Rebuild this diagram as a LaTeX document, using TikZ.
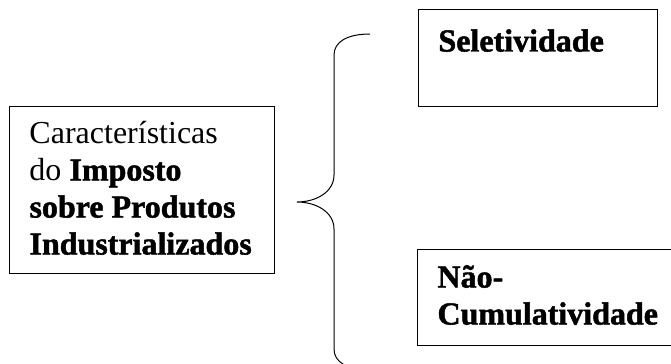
\documentclass[tikz,border=0pt]{standalone}
\usepackage{fontspec}
\setmainfont{Liberation Serif}[BoldFeatures={FakeBold=1.5}]
\usepackage{tikz}

\newcommand{\textocaixa}[4]{\parbox[c][#2][t]{#1}{\raggedright\rule{0pt}{#3}#4}}

\begin{document}
\begin{tikzpicture}[x=0.5pt, y=-0.5pt, semithick,
    caixa/.style={draw, rectangle, line width=0.5pt, anchor=north west, inner xsep=10pt, inner ysep=0pt,
                  font=\fontsize{16}{18.5}\selectfont},
    chave/.style={line width=0.5pt}]
    \clip (0,0) rectangle (671,364);

    \node[caixa]   (carac)   at (9,106)    {\textocaixa{112.5pt}{83.5pt}{18.5pt}{Características\\ do \textbf{Imposto}\\ \textbf{sobre Produtos}\\ \textbf{Industrializados}}};
    \node[caixa]   (selet)   at (418,9)    {\textocaixa{99.5pt}{48.5pt}{21pt}{\textbf{Seletividade}}};
    \node[caixa]   (naocum)  at (417,249)  {\textocaixa{116.5pt}{48pt}{19pt}{\textbf{Não-}\\ \textbf{Cumulatividade}}};

    % chave
    \coordinate (ponta) at (297,202);
    \draw[chave] (370,34) .. controls (347,34) and (334,42) .. (334,55) -- (334,175)
                 .. controls (334,192) and (316,202) .. (ponta)
                 .. controls (316,202) and (334,212) .. (334,229) -- (334,349)
                 .. controls (334,362) and (347,370) .. (370,370);
\end{tikzpicture}
\end{document}
